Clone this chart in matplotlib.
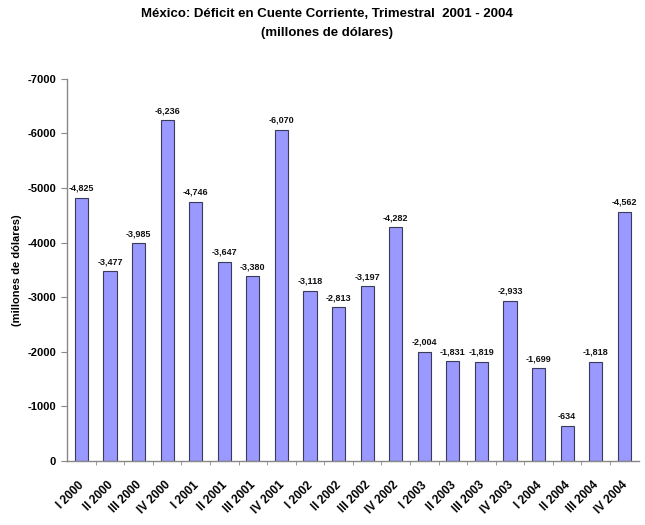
import matplotlib.pyplot as plt
from matplotlib.transforms import ScaledTranslation

plt.rcParams['font.family'] = ['Liberation Sans', 'DejaVu Sans']

# trimestres y déficit en cuenta corriente (millones de dólares)
quarters = ["I 2000", "II 2000", "III 2000", "IV 2000",
            "I 2001", "II 2001", "III 2001", "IV 2001",
            "I 2002", "II 2002", "III 2002", "IV 2002",
            "I 2003", "II 2003", "III 2003", "IV 2003",
            "I 2004", "II 2004", "III 2004", "IV 2004"]
deficit = [-4825, -3477, -3985, -6236,
           -4746, -3647, -3380, -6070,
           -3118, -2813, -3197, -4282,
           -2004, -1831, -1819, -2933,
           -1699, -634, -1818, -4562]
yticks = [0, -1000, -2000, -3000, -4000, -5000, -6000, -7000]

fig = plt.figure(figsize=(6.45, 5.25), dpi=100)
fig.patch.set_facecolor("white")
ax = fig.add_axes([0.104, 0.122, 0.886, 0.728])

x = list(range(len(quarters)))
ax.bar(x, deficit, width=0.46, color="#9999ff", edgecolor="#3a3a5a",
       linewidth=0.8, zorder=2)

for xi, v in zip(x, deficit):
    ax.text(xi, v - 90, f"{v:,}", ha="center", va="bottom",
            fontsize=6.5, fontweight="bold", color="#111111")

ax.set_xlim(-0.5, len(quarters) - 0.5)
ax.set_ylim(0, -7000)
ax.set_yticks(yticks)
ax.set_yticklabels([str(t) for t in yticks], fontsize=8, fontweight="bold")

ax.set_xticks(x)
ax.set_xticklabels(quarters, rotation=45, ha="right", rotation_mode="anchor",
                   fontsize=8.5, fontweight="bold")
ax.tick_params(axis="x", length=0, pad=13)
shift = ScaledTranslation(-3 / 100, 0, fig.dpi_scale_trans)
for lab in ax.get_xticklabels():
    lab.set_transform(lab.get_transform() + shift)
ax.set_xticks([i + 0.5 for i in x[:-1]], minor=True)
ax.tick_params(axis="x", which="minor", length=3, color="#888888", direction="out")
ax.tick_params(axis="y", length=4, color="#888888", pad=4)

for s in ["top", "right"]:
    ax.spines[s].set_visible(False)
for s in ["left", "bottom"]:
    ax.spines[s].set_color("#888888")
    ax.spines[s].set_linewidth(1.0)

ax.set_ylabel("(millones de dólares)", fontsize=8, fontweight="bold", labelpad=4)

fig.text(0.507, 0.973, "México: Déficit en Cuente Corriente, Trimestral  2001 - 2004",
         ha="center", va="center", fontsize=9.5, fontweight="bold")
fig.text(0.507, 0.937, "(millones de dólares)",
         ha="center", va="center", fontsize=9.5, fontweight="bold")

fig.savefig("out.png", dpi=100, facecolor="white")
